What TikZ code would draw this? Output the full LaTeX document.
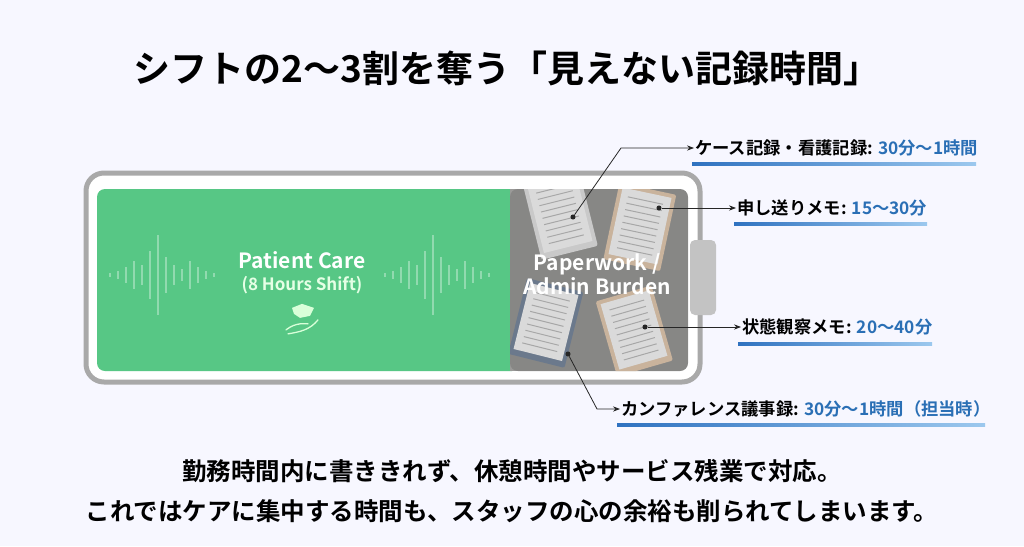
\documentclass[tikz,border=0pt]{standalone}
\usepackage{fontspec}
\setmainfont{Noto Sans CJK JP}[BoldFont={Noto Sans CJK JP Bold}]
\usetikzlibrary{arrows.meta,positioning}
\definecolor{careGreen}{HTML}{57C785}
\definecolor{paperGray}{HTML}{9A9A98}
\definecolor{shellGray}{HTML}{A9A9A9}
\definecolor{valBlue}{HTML}{2A6FB5}
\definecolor{lineBlue}{HTML}{2F72C0}
\definecolor{lineLight}{HTML}{9CC8EE}
\definecolor{slate}{HTML}{7A8AA0}

\tikzset{
  callout/.style={-{Stealth[length=7pt]},thick,black!85},
  tag/.style={anchor=west,font=\bfseries\fontsize{17.3}{17.3}\selectfont,inner sep=1pt},
  dot/.style={circle,fill=black!85,inner sep=1.8pt},
  board/.style={rounded corners=2pt},
}
\newcommand{\val}[1]{\textcolor{valBlue}{#1}}
\newcommand{\uline}[3]{\shade[left color=lineBlue,right color=lineLight] (#1,#3-1.5) rectangle (#2,#3+1.5);}
% sheet: centre x, centre y, angle, board colour
\newcommand{\sheet}[4]{%
  \begin{scope}[shift={(#1,#2)},rotate=#3]
    \fill[#4,board] (-29,-38) rectangle (29,40);
    \fill[white!95!gray] (-25,-34) rectangle (25,34);
    \foreach \k in {-4,...,4} \draw[gray!50,line width=1pt] (-18,\k*6.5) -- (18,\k*6.5);
  \end{scope}}

\begin{document}
\begin{tikzpicture}[x=1pt,y=-1pt]
  \useasboundingbox[fill=white!97!blue] (0,0) rectangle (1024,546);

  % title
  \node[font=\bfseries\fontsize{37}{37}\selectfont] (title) at (507,68) {シフトの2〜3割を奪う「見えない記録時間」};

  % battery shell
  \draw[shellGray,line width=5pt,rounded corners=18pt,fill=white] (86,173) rectangle (700,382);
  \fill[shellGray!70,rounded corners=5pt] (690,240) rectangle (716,315);
  \fill[careGreen,rounded corners=8pt] (97,189) rectangle (520,371);
  \fill[paperGray,rounded corners=8pt] (510,189) rectangle (688,371);
  \fill[paperGray] (510,189) rectangle (530,371);

  % papers
  \begin{scope}
    \clip[rounded corners=8pt] (510,189) rectangle (688,371);
    \sheet{640}{226}{-12}{brown!40!white}
    \sheet{560}{214}{14}{white!80!gray}
    \sheet{634}{330}{16}{brown!40!white}
    \sheet{546}{322}{-14}{slate}
    \fill[black,opacity=0.12] (510,189) rectangle (688,371);
  \end{scope}

  % waveforms
  \foreach \x/\h in {0/2,4/4,8/8,12/14,16/10,20/24,24/40,28/18,32/10,36/6,40/14,44/8,48/4,52/2}{
    \draw[white,opacity=0.35,line width=1.2pt] (110+2*\x,275-\h) -- (110+2*\x,275+\h);
    \draw[white,opacity=0.35,line width=1.2pt] (385+2*\x,275-\h) -- (385+2*\x,275+\h);
  }

  % segment labels
  \node[white,font=\bfseries\fontsize{21}{21}\selectfont] (care) at (302,260) {Patient Care};
  \node[white!90!green,font=\bfseries\fontsize{17}{17}\selectfont,below=1pt of care] (shift) {(8 Hours Shift)};
  \coordinate[below=22pt of shift] (hand);
  \begin{scope}[shift={(hand)},white!85!green,line width=1.3pt,line cap=round]
    \fill (-10,-12) -- (0,-16) -- (12,-12) -- (8,-4) -- (-2,-2) -- (-8,-6) -- cycle;
    \draw (-16,10) .. controls (-6,2) and (4,4) .. (6,4);
    \draw (-14,14) .. controls (-2,12) and (8,10) .. (16,0);
  \end{scope}
  \node[white,font=\bfseries\fontsize{21}{24}\selectfont,align=center] (paper) at (597,274) {Paperwork /\\Admin Burden};

  % callout dots
  \node[dot] (d1) at (573,217) {};
  \node[dot] (d2) at (659,208) {};
  \node[dot] (d3) at (645,327) {};
  \node[dot] (d4) at (568,354) {};

  % tags
  \node[tag] (t1) at (694,148) {ケース記録・看護記録: \val{30分〜1時間}};
  \node[tag] (t2) at (736,208) {申し送りメモ: \val{15〜30分}};
  \node[tag] (t3) at (741,327) {状態観察メモ: \val{20〜40分}};
  \node[tag] (t4) at (620,409) {カンファレンス議事録: \val{30分〜1時間（担当時）}};
  \uline{692}{976}{164}
  \uline{734}{927}{224}
  \uline{738}{932}{344}
  \uline{617}{985}{425}

  \draw[callout] (d1) -- (621,148) -- (t1.west);
  \draw[callout] (d2) -- (t2.west);
  \draw[callout] (d3) -- (t3.west);
  \draw[callout] (d4) -- (597,409) -- (t4.west);

  % bottom message
  \node[font=\bfseries\fontsize{24.5}{24.5}\selectfont] (msg1) at (512,471) {勤務時間内に書ききれず、休憩時間やサービス残業で対応。};
  \node[font=\bfseries\fontsize{24.5}{24.5}\selectfont] (msg2) at (512,511) {これではケアに集中する時間も、スタッフの心の余裕も削られてしまいます。};
\end{tikzpicture}
\end{document}
